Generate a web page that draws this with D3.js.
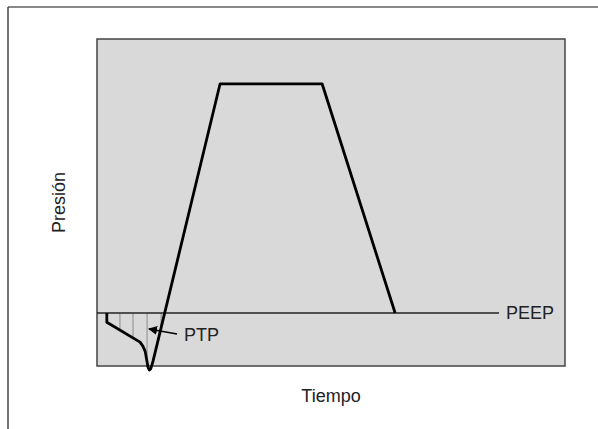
<html>
<head>
  <meta charset="utf-8">
  <script src="https://d3js.org/d3.v7.min.js"></script>
  <style>
    html, body { margin: 0; background: #fff; }
    text { font-family: Arial, "Liberation Sans", sans-serif; fill: #222; }
  </style>
</head>
<body>
<script>
  // pressure waveform (arbitrary units, PEEP = 0)
  var times     = [2.1, 2.1, 9.2, 9.8, 10.3, 10.6, 10.9, 11.2, 11.5, 12.0, 26.3, 48.1, 63.7];
  var pressures = [0, -0.35, -1.1, -1.25, -1.45, -1.75, -2.05, -2.15, -2.1, -1.8, 8.65, 8.65, 0];
  var peep = 0, peepEnd = 85.9;
  var hatchTimes = [4.9, 7.7, 10.7, 13.7];
  var labels = { x: 'Tiempo', y: 'Presión', peep: 'PEEP', ptp: 'PTP' };

  var width = 598, height = 429;
  var box = { left: 97, top: 39, right: 565, bottom: 366 };

  var svg = d3.select('body').append('svg')
    .attr('width', width)
    .attr('height', height);

  // outer frame
  svg.append('line').attr('x1', 8).attr('y1', 7).attr('x2', width).attr('y2', 7)
    .attr('stroke', '#888').attr('stroke-width', 2);
  svg.append('line').attr('x1', 8).attr('y1', 7).attr('x2', 8).attr('y2', height)
    .attr('stroke', '#444').attr('stroke-width', 1.5);

  var x = d3.scaleLinear().domain([0, 100]).range([box.left, box.right]);
  var y = d3.scaleLinear().domain([-2, 10.34]).range([box.bottom, box.top]);

  svg.append('rect')
    .attr('x', box.left).attr('y', box.top)
    .attr('width', box.right - box.left).attr('height', box.bottom - box.top)
    .attr('fill', '#d9d9d9').attr('stroke', '#444').attr('stroke-width', 1.5);

  var pts = times.map(function (t, i) { return [t, pressures[i]]; });

  // lowest crossing below PEEP for the hatch lines
  function curveAt(t) {
    var best = null;
    for (var i = 0; i < pts.length - 1; i++) {
      var a = pts[i], b = pts[i + 1];
      if (a[0] === b[0]) continue;
      if (t >= Math.min(a[0], b[0]) && t <= Math.max(a[0], b[0])) {
        var v = a[1] + (b[1] - a[1]) * (t - a[0]) / (b[0] - a[0]);
        if (v < peep && (best === null || v > best)) best = v;
      }
    }
    return best;
  }

  svg.append('g').selectAll('line')
    .data(hatchTimes)
    .enter()
    .append('line')
    .attr('x1', function (d) { return x(d); })
    .attr('x2', function (d) { return x(d); })
    .attr('y1', y(peep))
    .attr('y2', function (d) { return y(curveAt(d)); })
    .attr('stroke', '#999')
    .attr('stroke-width', 1.2);

  // PEEP baseline
  svg.append('line')
    .attr('x1', x(0)).attr('x2', x(peepEnd))
    .attr('y1', y(peep)).attr('y2', y(peep))
    .attr('stroke', '#222').attr('stroke-width', 1.5);

  svg.append('text')
    .attr('x', x(peepEnd) + 7).attr('y', y(peep) + 6)
    .attr('font-size', 18)
    .text(labels.peep);

  var line = d3.line()
    .x(function (d) { return x(d[0]); })
    .y(function (d) { return y(d[1]); });

  svg.append('path')
    .datum(pts)
    .attr('d', line)
    .attr('fill', 'none')
    .attr('stroke', '#000')
    .attr('stroke-width', 2.8)
    .attr('stroke-linejoin', 'round');

  // PTP arrow
  svg.append('defs').append('marker')
    .attr('id', 'arrow')
    .attr('viewBox', '0 0 10 10')
    .attr('refX', 9).attr('refY', 5)
    .attr('markerWidth', 6).attr('markerHeight', 6)
    .attr('orient', 'auto')
    .append('path')
    .attr('d', 'M0,0L10,5L0,10z')
    .attr('fill', '#000');

  svg.append('line')
    .attr('x1', x(17.1)).attr('y1', y(-0.79))
    .attr('x2', x(11.1)).attr('y2', y(-0.6))
    .attr('stroke', '#000').attr('stroke-width', 1.5)
    .attr('marker-end', 'url(#arrow)');

  svg.append('text')
    .attr('x', x(18.6)).attr('y', y(-0.79) + 7)
    .attr('font-size', 18)
    .text(labels.ptp);

  // axis titles
  svg.append('text')
    .attr('x', (box.left + box.right) / 2).attr('y', 402)
    .attr('text-anchor', 'middle')
    .attr('font-size', 18)
    .text(labels.x);

  svg.append('text')
    .attr('transform', 'translate(65,' + ((box.top + box.bottom) / 2) + ') rotate(-90)')
    .attr('text-anchor', 'middle')
    .attr('font-size', 18)
    .text(labels.y);
</script>
</body>
</html>
